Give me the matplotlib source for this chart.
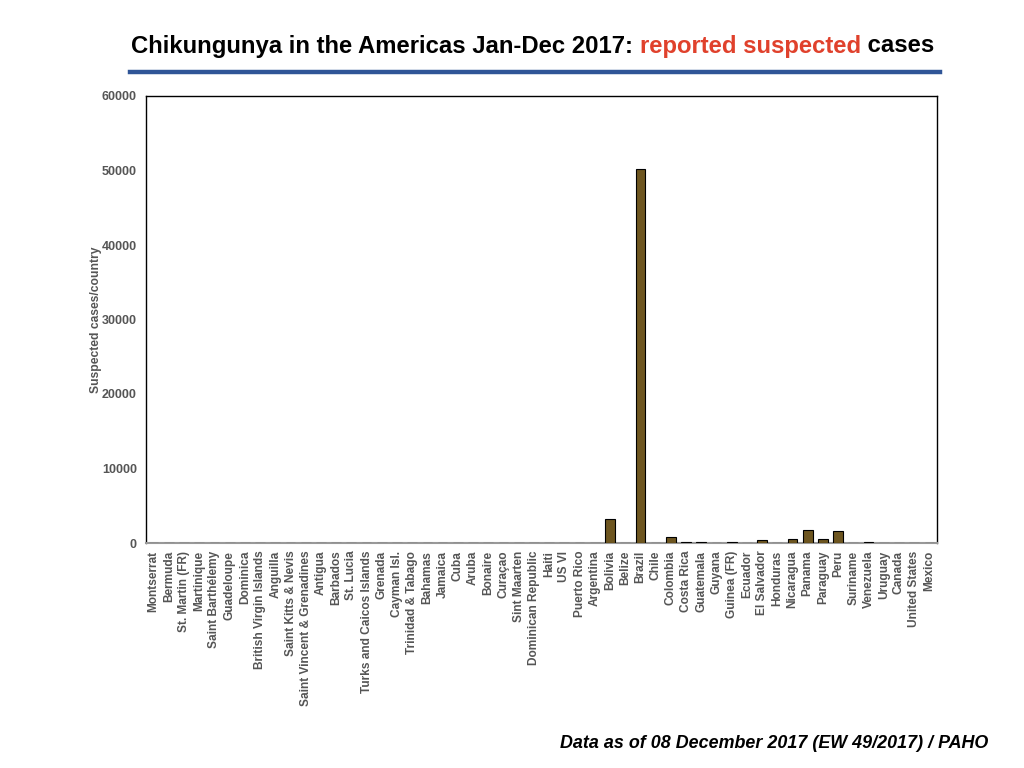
import matplotlib
matplotlib.use("Agg")
import matplotlib.pyplot as plt
from matplotlib.lines import Line2D

countries = ["Montserrat", "Bermuda", "St. Martin (FR)", "Martinique", "Saint Barthélemy",
             "Guadeloupe", "Dominica", "British Virgin Islands", "Anguilla", "Saint Kitts & Nevis",
             "Saint Vincent & Grenadines", "Antigua", "Barbados", "St. Lucia",
             "Turks and Caicos Islands", "Grenada", "Cayman Isl.", "Trinidad & Tabago", "Bahamas",
             "Jamaica", "Cuba", "Aruba", "Bonaire", "Curaçao", "Sint Maarten",
             "Dominican Republic", "Haiti", "US VI", "Puerto Rico", "Argentina", "Bolivia",
             "Belize", "Brazil", "Chile", "Colombia", "Costa Rica", "Guatemala", "Guyana",
             "Guinea (FR)", "Ecuador", "El Salvador", "Honduras", "Nicaragua", "Panama",
             "Paraguay", "Peru", "Suriname", "Venezuela", "Uruguay", "Canada", "United States",
             "Mexico"]
cases = [0, 0, 0, 0, 0,
         0, 0, 0, 0, 0,
         0, 0, 0, 0,
         0, 0, 0, 0, 0,
         0, 0, 0, 0, 0, 0,
         0, 0, 0, 0, 0, 3250,
         0, 50200, 0, 850, 200, 200, 0,
         100, 0, 450, 0, 580, 1790,
         580, 1650, 0, 200, 0, 0, 0,
         0]
yticks = [0, 10000, 20000, 30000, 40000, 50000, 60000]

FONT = "Liberation Sans"
GRAY = "#555555"

fig = plt.figure(figsize=(10.24, 7.68), dpi=100)
ax = fig.add_axes([146/1024, 1-543/768, (937-146)/1024, (543-96)/768])

x = list(range(len(countries)))
ax.bar(x, cases, width=0.64, color="#6e5620", edgecolor="black", linewidth=0.8, zorder=3)
ax.set_xlim(-0.5, len(countries) - 0.5)
ax.set_ylim(0, 60000)
ax.set_yticks(yticks)
ax.set_yticklabels([str(v) for v in yticks], fontsize=9, color=GRAY, fontweight="bold",
                   family=FONT)
ax.set_xticks(x)
ax.set_xticklabels(countries, rotation=90, fontsize=8.6, color=GRAY, fontweight="bold",
                   family=FONT)
ax.tick_params(axis="both", length=0)
ax.tick_params(axis="x", pad=5.5)
ax.tick_params(axis="y", pad=6.5)
for s in ["left", "top", "right"]:
    ax.spines[s].set_color("black")
    ax.spines[s].set_linewidth(1.0)
ax.spines["bottom"].set_color("#999999")
ax.spines["bottom"].set_linewidth(1.5)
ax.set_ylabel("Suspected cases/country", fontsize=8.7, color=GRAY, fontweight="bold",
              family=FONT, labelpad=0)

TS = 17.2
ty = 1 - 46/768
t1 = fig.text(131/1024, ty, "Chikungunya in the Americas Jan-Dec 2017: ", ha="left",
              va="center", fontsize=TS, fontweight="bold", family=FONT)
fig.canvas.draw()
r = fig.canvas.get_renderer()
bb = t1.get_window_extent(r)
t2 = fig.text(bb.x1 / 1024, ty, "reported suspected", ha="left", va="center",
              fontsize=TS, fontweight="bold", family=FONT, color="#e0412c")
bb2 = t2.get_window_extent(r)
fig.text(bb2.x1 / 1024, ty, " cases", ha="left", va="center",
         fontsize=TS, fontweight="bold", family=FONT, color="black")

fig.add_artist(Line2D([130/1024, 940/1024], [1-72/768, 1-72/768], color="#2f5597",
                      linewidth=3.2, transform=fig.transFigure))

fig.text(988/1024, 1-744/768, "Data as of 08 December 2017 (EW 49/2017) / PAHO", ha="right",
         va="center", fontsize=12.9, fontweight="bold", fontstyle="italic",
         family=FONT, color="black")

fig.savefig("out.png", dpi=100)
